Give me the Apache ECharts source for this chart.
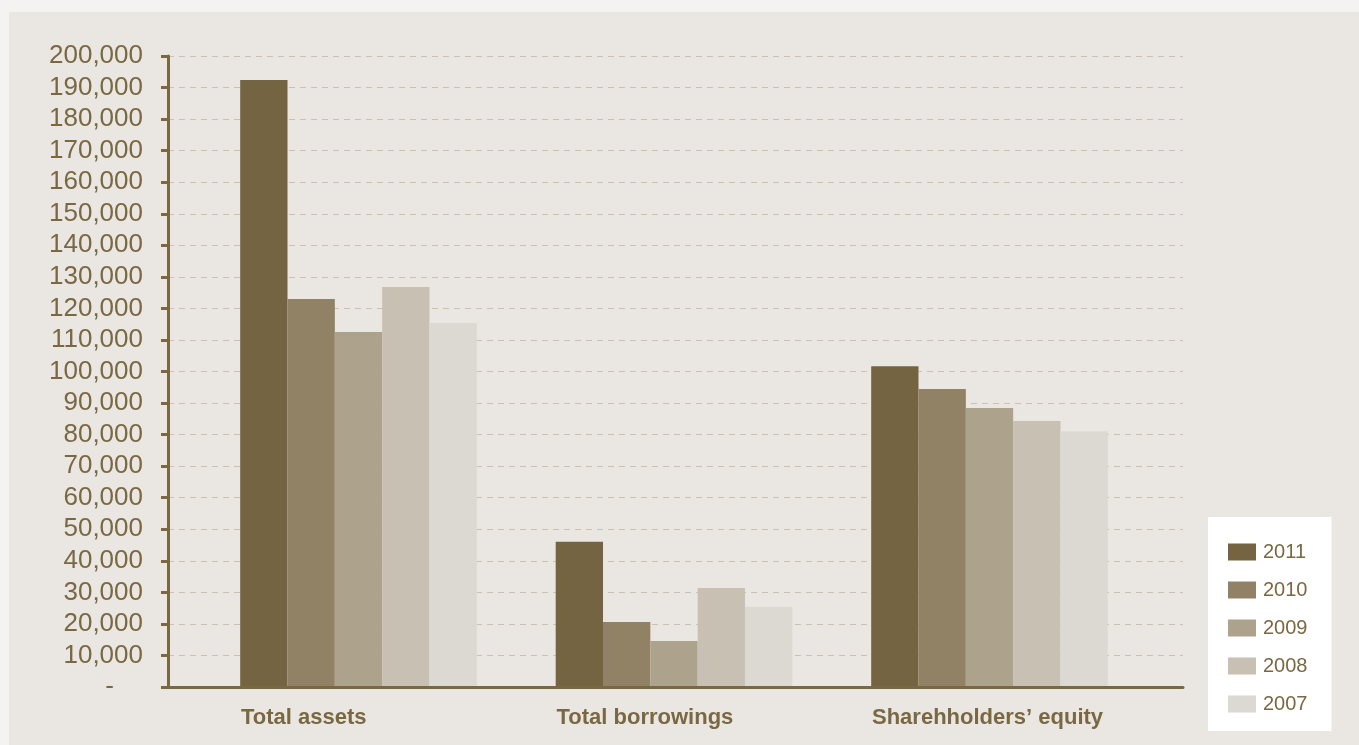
<!DOCTYPE html>
<html>
<head>
<meta charset="utf-8">
<script src="https://cdn.jsdelivr.net/npm/echarts@6/dist/echarts.min.js"></script>
<style>
  html, body { margin: 0; padding: 0; background: #F4F3F1; width: 1359px; height: 745px; overflow: hidden; }
  #chart { position: absolute; left: 9px; top: 12px; width: 1350px; height: 733px; background: #EAE7E2; }
</style>
</head>
<body>
<div id="chart"></div>
<script>
const categories = ['Total assets', 'Total borrowings', 'Sharehholders\u2019 equity'];
const years = ['2011', '2010', '2009', '2008', '2007'];
const values2011 = [192400, 46000, 101700];
const values2010 = [123000, 20600, 94450];
const values2009 = [112500, 14600, 88400];
const values2008 = [126800, 31400, 84300];
const values2007 = [115400, 25400, 81100];
const yMin = 0, yMax = 200000, yStep = 10000;

const seriesValues = [values2011, values2010, values2009, values2008, values2007];
const colors = ['#756442', '#928265', '#ADA38D', '#C8C0B3', '#DCD9D2'];
const textColor = '#7A6843';
const font = 'Liberation Sans, Arial, Helvetica, sans-serif';

const chart = echarts.init(document.getElementById('chart'));
chart.setOption({
  animation: false,
  backgroundColor: 'transparent',
  textStyle: { fontFamily: font },
  grid: [
    { left: 159, right: 176, top: 44, bottom: 58 },
    { left: 191.75, right: 211.75, top: 44, bottom: 58 },
    { left: 74.25, right: 329.25, top: 44, bottom: 58 }
  ],
  legend: {
    orient: 'vertical',
    left: 1199,
    top: 505,
    backgroundColor: '#FFFFFF',
    padding: [25, 24, 17, 20],
    itemWidth: 28,
    itemHeight: 17,
    itemGap: 18,
    icon: 'rect',
    textStyle: { color: textColor, fontSize: 20, fontFamily: font, padding: [0, 0, 0, 2] },
    data: years
  },
  xAxis: [
    {
      gridIndex: 0, type: 'category', data: categories, z: 5,
      axisLine: { show: true, lineStyle: { color: '#7A6843', width: 3 } },
      axisTick: { show: false }, axisLabel: { show: false }, splitLine: { show: false }
    },
    {
      gridIndex: 1, type: 'category', data: categories,
      axisLine: { show: false }, axisTick: { show: false }, axisLabel: { show: false }, splitLine: { show: false }
    },
    {
      gridIndex: 2, type: 'category', data: categories,
      axisLine: { show: false }, axisTick: { show: false }, splitLine: { show: false },
      axisLabel: { show: true, align: 'left', margin: 20, color: textColor, fontSize: 22, fontWeight: 'bold', fontFamily: font }
    }
  ],
  yAxis: [
    {
      gridIndex: 0, type: 'value', min: yMin, max: yMax, interval: yStep,
      axisLine: { show: true, lineStyle: { color: '#7A6843', width: 3 } },
      axisTick: { show: true, length: 7, lineStyle: { color: '#7A6843', width: 3 } },
      axisLabel: {
        margin: 25, color: textColor, fontSize: 26, fontFamily: font,
        formatter: function (v) {
          if (v === 0) return '{z|-}';
          return v.toLocaleString('en-US');
        },
        rich: { z: { color: textColor, fontSize: 26, fontFamily: font, padding: [0, 29, 0, 0] } }
      },
      splitLine: { show: true, lineStyle: { color: '#C9C2B3', width: 1, type: [6, 5] } }
    },
    { gridIndex: 1, type: 'value', min: yMin, max: yMax, interval: yStep, show: false, splitLine: { show: false } },
    { gridIndex: 2, type: 'value', min: yMin, max: yMax, interval: yStep, show: false, splitLine: { show: false } }
  ],
  series: years.map(function (y, i) {
    return {
      name: y, type: 'bar', xAxisIndex: 1, yAxisIndex: 1,
      data: seriesValues[i],
      barGap: '0%', barCategoryGap: '25%',
      itemStyle: { color: colors[i] },
      z: 2
    };
  })
});
</script>
</body>
</html>
